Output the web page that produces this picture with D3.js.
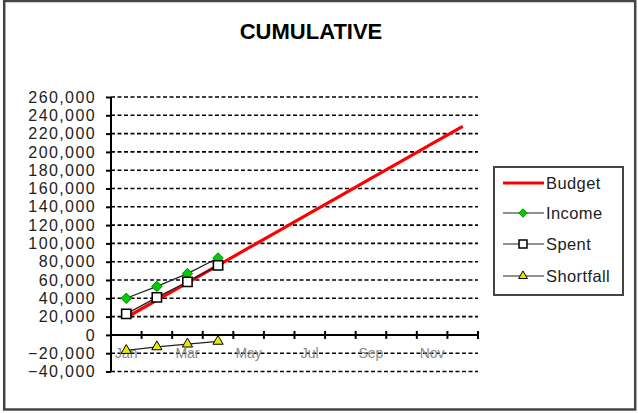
<!DOCTYPE html>
<html>
<head>
<meta charset="utf-8">
<script src="https://cdn.jsdelivr.net/npm/d3@7"></script>
<style>
  body { margin: 0; background: #fff; }
  text { font-family: "Liberation Sans", Arial, sans-serif; }
</style>
</head>
<body>
<div id="chart"></div>
<script>
// values
var months = ["Jan", "Feb", "Mar", "Apr", "May", "Jun", "Jul", "Aug", "Sep", "Oct", "Nov", "Dec"];
var budget = [19000, 38000, 57000, 76000, 95000, 114000, 133000, 152000, 171000, 190000, 209000, 228000];
var income = [40000, 53000, 67000, 84000];
var spent = [23000, 41000, 58000, 76000];
var shortfall = [-17000, -13000, -10000, -7000];
var yTicks = d3.range(-40000, 260001, 20000);

var width = 638, height = 413;

var svg = d3.select("#chart").append("svg")
    .attr("width", width).attr("height", height);

// outer frame
svg.append("rect")
    .attr("x", 4.2).attr("y", 1)
    .attr("width", 631).attr("height", 408.5)
    .attr("fill", "none")
    .attr("stroke", "#444")
    .attr("stroke-width", 2.5);

svg.append("text")
    .attr("x", 311).attr("y", 39)
    .attr("text-anchor", "middle")
    .style("font-size", "22px")
    .style("font-weight", "bold")
    .text("CUMULATIVE");

var x = d3.scaleBand().domain(months).range([111, 478]);
var y = d3.scaleLinear().domain([-40000, 260000]).range([371.5, 97]);
var cx = function (i) { return x(months[i]) + x.bandwidth() / 2; };

// gridlines
svg.append("g")
    .selectAll("line")
    .data(yTicks.filter(function (d) { return d !== 0; }))
    .join("line")
    .attr("x1", x.range()[0]).attr("x2", x.range()[1])
    .attr("y1", d => y(d)).attr("y2", d => y(d))
    .attr("stroke", "#000")
    .attr("stroke-width", 1.6)
    .attr("stroke-dasharray", "4,2.5");

// y axis
var yAxis = svg.append("g")
    .attr("transform", "translate(111,0)")
    .call(d3.axisLeft(y).tickValues(yTicks).tickSize(5).tickPadding(10)
        .tickFormat(d3.format(",")));
yAxis.select(".domain").attr("stroke-width", 2).attr("d", "M0," + y(-40000) + "V" + y(260000));
yAxis.selectAll(".tick line").attr("stroke-width", 2);
yAxis.selectAll("text")
    .style("font-size", "16px")
    .style("letter-spacing", "1.4px")
    .attr("fill", "#222")
    .attr("font-family", "Liberation Sans, Arial, sans-serif");

// x axis at zero
var xAxis = svg.append("g")
    .attr("transform", "translate(0," + y(0) + ")");
xAxis.append("line")
    .attr("x1", x.range()[0]).attr("x2", x.range()[1])
    .attr("stroke", "#000").attr("stroke-width", 2);
xAxis.selectAll(".tk")
    .data(months)
    .join("line")
    .attr("class", "tk")
    .attr("x1", d => x(d) + x.bandwidth())
    .attr("x2", d => x(d) + x.bandwidth())
    .attr("y1", -4).attr("y2", 4)
    .attr("stroke", "#000").attr("stroke-width", 2);
xAxis.selectAll("text")
    .data(months.filter((d, i) => i % 2 === 0))
    .join("text")
    .attr("x", d => x(d) + x.bandwidth() / 2)
    .attr("y", 23)
    .attr("text-anchor", "middle")
    .attr("fill", "#8a8a8a")
    .style("font-size", "14px")
    .text(d => d);

// series
var line = d3.line().x((d, i) => cx(i)).y(d => y(d));

svg.append("path").datum(budget)
    .attr("d", line)
    .attr("fill", "none")
    .attr("stroke", "#ff0000")
    .attr("stroke-width", 3.2);

[income, spent, shortfall].forEach(function (s) {
    svg.append("path").datum(s)
        .attr("d", line)
        .attr("fill", "none")
        .attr("stroke", "#222")
        .attr("stroke-width", 1.2);
});

var diamond = d3.symbol().type(d3.symbolDiamond2).size(70);
var square = d3.symbol().type(d3.symbolSquare2).size(110);
var triangle = d3.symbol().type(d3.symbolTriangle2).size(75);

function markers(data, sym, fill, stroke, sw) {
    svg.append("g")
        .selectAll("path")
        .data(data)
        .join("path")
        .attr("d", sym)
        .attr("transform", (d, i) => "translate(" + cx(i) + "," + y(d) + ")")
        .attr("fill", fill)
        .attr("stroke", stroke)
        .attr("stroke-width", sw);
}
markers(income, diamond, "#00cc00", "#008800", 1);
markers(spent, square, "#fff", "#000", 1.6);
markers(shortfall, triangle, "#e8e800", "#000", 1);

// legend
var legendNames = ["Budget", "Income", "Spent", "Shortfall"];
var legendY = [183, 213, 244, 276];

svg.append("rect")
    .attr("x", 494).attr("y", 167)
    .attr("width", 129).attr("height", 128)
    .attr("fill", "#fff")
    .attr("stroke", "#444")
    .attr("stroke-width", 2);

var lg = svg.append("g")
    .selectAll("g")
    .data(legendNames)
    .join("g")
    .attr("transform", (d, i) => "translate(0," + legendY[i] + ")");

lg.append("line")
    .attr("x1", 503).attr("x2", 544)
    .attr("stroke", (d, i) => i === 0 ? "#ff0000" : "#222")
    .attr("stroke-width", (d, i) => i === 0 ? 3.2 : 1.2);

lg.filter((d, i) => i > 0).append("path")
    .attr("transform", "translate(523,0)")
    .attr("d", (d, i) => [d3.symbol().type(d3.symbolDiamond2).size(45)(),
        d3.symbol().type(d3.symbolSquare2).size(80)(),
        d3.symbol().type(d3.symbolTriangle2).size(55)()][i])
    .attr("fill", (d, i) => ["#00cc00", "#fff", "#e8e800"][i])
    .attr("stroke", (d, i) => ["#008800", "#000", "#000"][i])
    .attr("stroke-width", (d, i) => i === 1 ? 1.5 : 1);

lg.append("text")
    .attr("x", 546).attr("y", 6)
    .style("font-size", "16.5px")
    .style("letter-spacing", "0.4px")
    .attr("fill", "#222")
    .text(d => d);
</script>
</body>
</html>
